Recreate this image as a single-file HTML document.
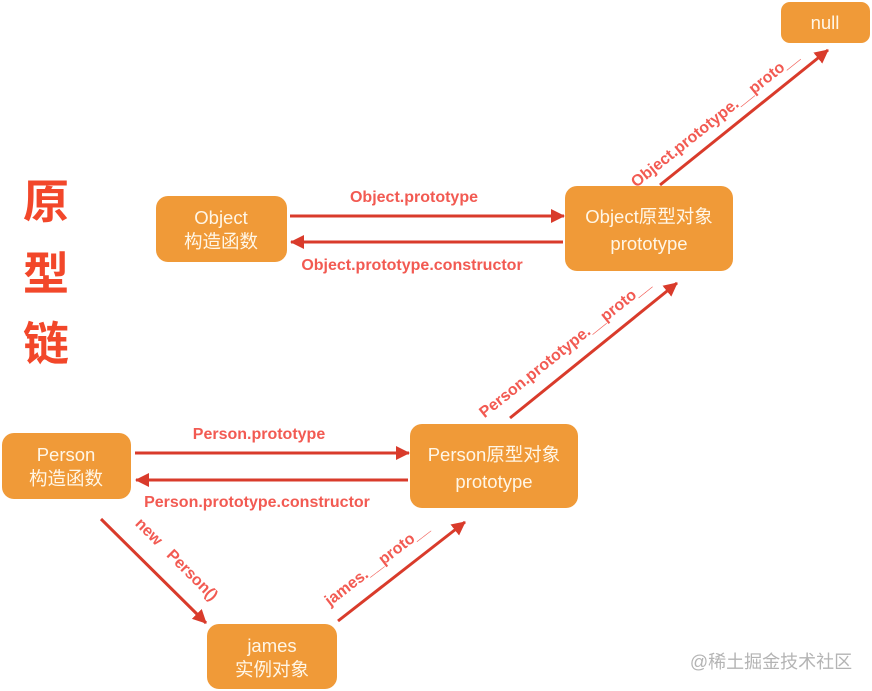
<!DOCTYPE html>
<html><head><meta charset="utf-8"><style>
html,body{margin:0;padding:0;background:#fff;}
svg{display:block;}
.box{fill:#f09a38;}
.bt{fill:#fff6e6;font-family:"Liberation Sans","Noto Sans CJK SC",sans-serif;font-size:18.5px;text-anchor:middle;}
.lb{fill:#f25a52;font-family:"Liberation Sans",sans-serif;font-size:16px;font-weight:bold;text-anchor:middle;}
.ln{stroke:#d93b2b;stroke-width:3;fill:none;}
</style></head><body>
<svg width="872" height="691" viewBox="0 0 872 691" xmlns="http://www.w3.org/2000/svg">
<defs>
<marker id="b" markerWidth="14" markerHeight="14" refX="13" refY="7" orient="auto" markerUnits="userSpaceOnUse" viewBox="0 0 14 14">
<path d="M0,0 L14,7 L0,14 z" fill="#d93b2b"/></marker>
</defs>
<g font-size="46" font-weight="bold" fill="#f2472a" text-anchor="middle" font-family="Noto Sans CJK SC,sans-serif">
<text x="46" y="218">原</text>
<text x="46" y="290">型</text>
<text x="46" y="360">链</text>
</g>
<rect class="box" x="781" y="2" width="89" height="41" rx="9"/>
<text class="bt" x="825" y="29">null</text>
<rect class="box" x="156" y="196" width="131" height="66" rx="12"/>
<text class="bt" x="221" y="224">Object</text><text class="bt" x="221" y="248">构造函数</text>
<rect class="box" x="565" y="186" width="168" height="85" rx="12"/>
<text class="bt" x="649" y="223">Object原型对象</text><text class="bt" x="649" y="250">prototype</text>
<rect class="box" x="2" y="433" width="129" height="66" rx="12"/>
<text class="bt" x="66" y="461">Person</text><text class="bt" x="66" y="485">构造函数</text>
<rect class="box" x="410" y="424" width="168" height="84" rx="12"/>
<text class="bt" x="494" y="461">Person原型对象</text><text class="bt" x="494" y="488">prototype</text>
<rect class="box" x="207" y="624" width="130" height="65" rx="12"/>
<text class="bt" x="272" y="652">james</text><text class="bt" x="272" y="676">实例对象</text>
<line class="ln" x1="290" y1="216" x2="564" y2="216" marker-end="url(#b)"/>
<line class="ln" x1="563" y1="242" x2="291" y2="242" marker-end="url(#b)"/>
<line class="ln" x1="660" y1="185" x2="828" y2="50" marker-end="url(#b)"/>
<line class="ln" x1="510" y1="418" x2="677" y2="283" marker-end="url(#b)"/>
<line class="ln" x1="135" y1="453" x2="409" y2="453" marker-end="url(#b)"/>
<line class="ln" x1="408" y1="480" x2="136" y2="480" marker-end="url(#b)"/>
<line class="ln" x1="101" y1="519" x2="206" y2="623" marker-end="url(#b)"/>
<line class="ln" x1="338" y1="621" x2="465" y2="522" marker-end="url(#b)"/>
<text class="lb" x="414" y="202">Object.prototype</text>
<text class="lb" x="412" y="270">Object.prototype.constructor</text>
<text class="lb" x="259" y="439">Person.prototype</text>
<text class="lb" x="257" y="507">Person.prototype.constructor</text>
<text class="lb" transform="translate(718,123) rotate(-38.5)">Object.prototype.__proto__</text>
<text class="lb" transform="translate(568,352) rotate(-38.5)">Person.prototype.__proto__</text>
<text class="lb" transform="translate(380,568) rotate(-37.5)">james.__proto__</text>
<text class="lb" transform="translate(173,563) rotate(45)" xml:space="preserve">new   Person()</text>
<text x="771" y="668" font-family="Liberation Sans,Noto Sans CJK SC,sans-serif" font-size="18" fill="#b4b4b4" text-anchor="middle">@稀土掘金技术社区</text>
</svg>
</body></html>
